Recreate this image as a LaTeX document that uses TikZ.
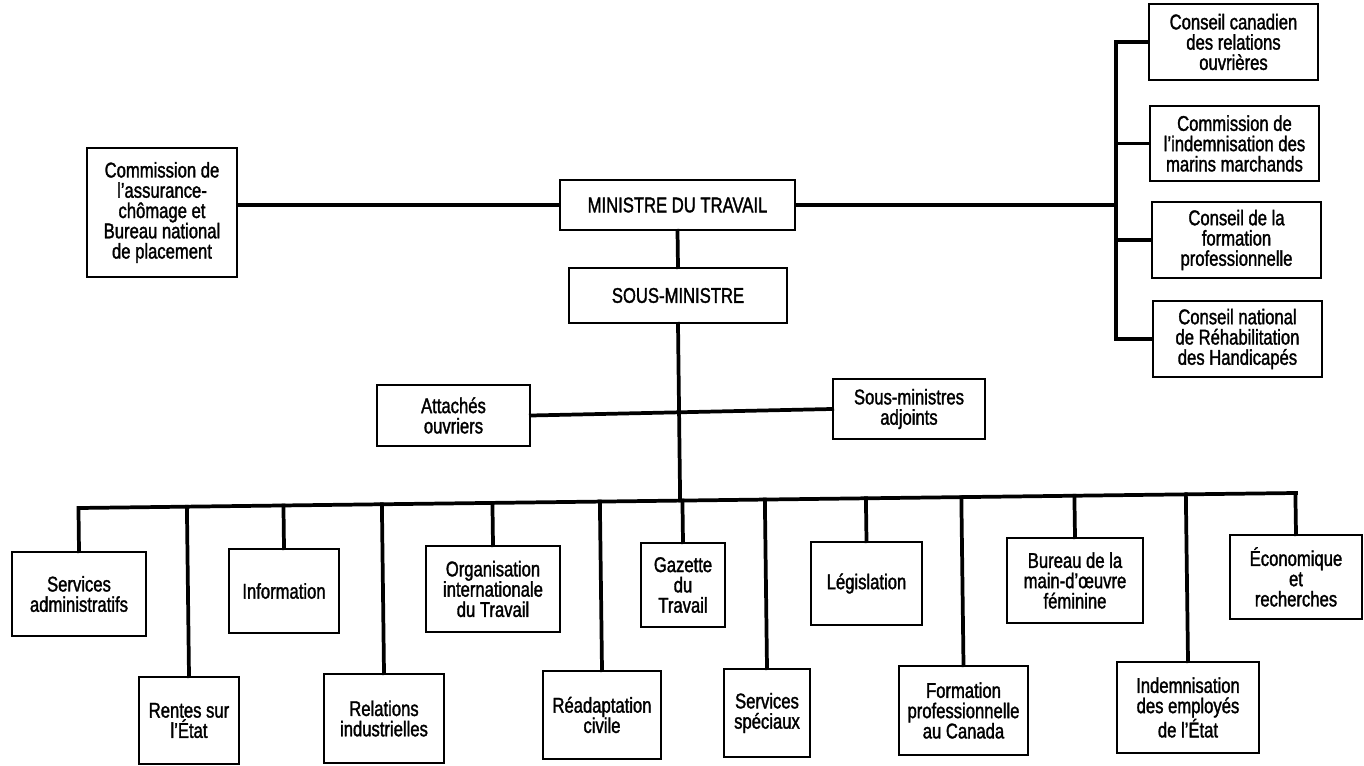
\documentclass[tikz,border=0pt]{standalone}
\usepackage{fontspec}
\setmainfont{Liberation Sans}[FakeStretch=0.78,FakeBold=1.5]
\usetikzlibrary{calc}
\begin{document}
\begin{tikzpicture}[x=0.75pt,y=-0.75pt,
  orgbox/.style 2 args={draw, line width=1.3pt, align=center, inner sep=0pt,
    minimum width=#1*0.75pt, minimum height=#2*0.75pt,
    font=\fontsize{16pt}{15.2pt}\selectfont},
  link/.style={line width=2.8pt, line cap=rect}]
\useasboundingbox (0,0) rectangle (1364,766);

% top of the hierarchy
\node[orgbox={235}{50}] (min) at (677.5,205) {MINISTRE DU TRAVAIL};
\node[orgbox={218}{55}] (smin) at (678,295.5) {SOUS-MINISTRE};
\node[orgbox={150}{129}] (unemp) at (162,212.5)
  {Commission de\\l'assurance-\\chômage et\\Bureau national\\de placement};
\node[orgbox={153}{61}] (att) at (453.5,415.5) {Attachés\\ouvriers};
\node[orgbox={152}{60}] (adj) at (909,409) {Sous-ministres\\adjoints};

% boards and commissions on the right
\node[orgbox={169}{76}] (r1) at (1233.5,42) {Conseil canadien\\des relations\\ouvrières};
\node[orgbox={169}{75}] (r2) at (1234.5,143.5) {Commission de\\l'indemnisation des\\marins marchands};
\node[orgbox={169}{76}] (r3) at (1236.5,240) {Conseil de la\\formation\\professionnelle};
\node[orgbox={169}{76}] (r4) at (1237.5,339) {Conseil national\\de Réhabilitation\\des Handicapés};

% branches along the bottom
\node[orgbox={134}{84}] (b1) at (79,594) {Services\\administratifs};
\node[orgbox={100}{87}] (b2) at (189,720.5) {Rentes sur\\l'État};
\node[orgbox={110}{84}] (b3) at (284,591) {Information};
\node[orgbox={120}{89}] (b4) at (384,718.5) {Relations\\industrielles};
\node[orgbox={134}{86}] (b5) at (493,589) {Organisation\\internationale\\du Travail};
\node[orgbox={118}{88}] (b6) at (602,715) {Réadaptation\\civile};
\node[orgbox={84}{84}] (b7) at (683,585) {Gazette\\du\\Travail};
\node[orgbox={86}{88}] (b8) at (767,713) {Services\\spéciaux};
\node[orgbox={111}{83}] (b9) at (866.5,583.5) {Législation};
\node[orgbox={129}{89}] (b10) at (963.5,710.5) {Formation\\professionnelle\\au Canada};
\node[orgbox={136}{85}] (b11) at (1075,580.5) {Bureau de la\\main-d'œuvre\\féminine};
\node[orgbox={142}{91}] (b12) at (1188,707.5) {Indemnisation\\des employés\\de l'État};
\node[orgbox={132}{84}] (b13) at (1296,577) {Économique\\et\\recherches};

% bus coordinates
\coordinate (rb) at (1116,200);
\coordinate (busL) at (b1.north |- 0,508);
\coordinate (busR) at (b13.north |- 0,493);

% connectors
\draw[link] (min.west) -- (min.west -| unemp.east);
\draw[link] (min.east) -- (min.east -| rb);
\draw[link] (min.south) -- (smin.north);
\draw[link] (r1.west -| rb) -- (r4.west -| rb);
\foreach \r in {r1,r2,r3,r4} \draw[link] (\r.west) -- (\r.west -| rb);
\draw[link] (smin.south) -- ($(busL)!(smin.south)!(busR)$);
\draw[link] (att.east) -- (adj.west);
\draw[link] (busL) -- (busR);
\foreach \b in {b1,b2,b3,b4,b5,b6,b7,b8,b9,b10,b11,b12,b13}
  \draw[link] (\b.north) -- ($(busL)!(\b.north)!(busR)$);
\end{tikzpicture}
\end{document}
